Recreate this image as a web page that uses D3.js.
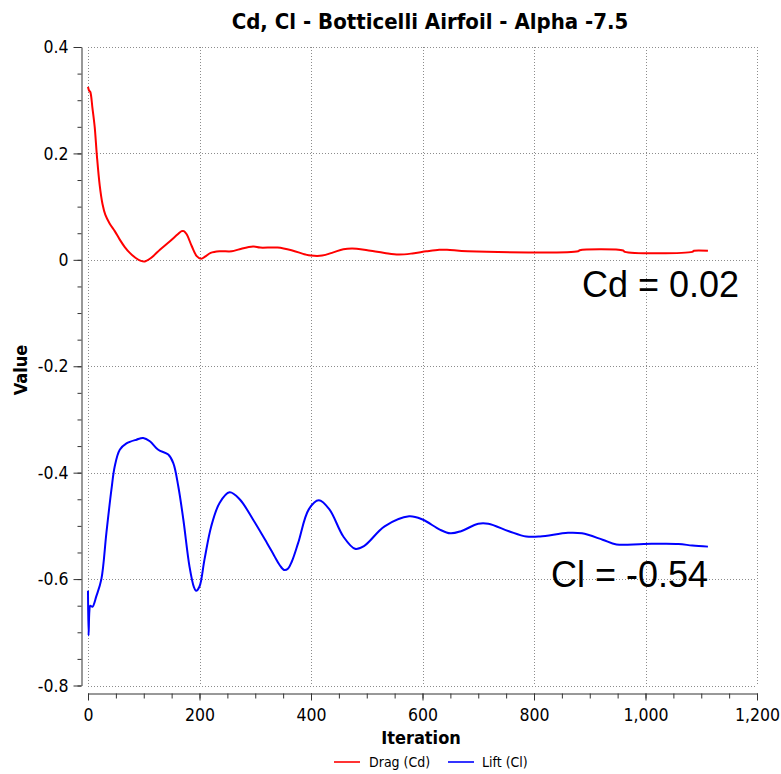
<!DOCTYPE html>
<html>
<head>
<meta charset="utf-8">
<script src="https://cdn.jsdelivr.net/npm/d3@7"></script>
<style>
  html, body { margin: 0; padding: 0; background: #fff; }
  svg { display: block; }
  text { font-family: "DejaVu Sans Condensed", "DejaVu Sans", sans-serif; fill: #000; }
</style>
</head>
<body>
<svg id="chart" width="781" height="774"></svg>
<script>
// ---- data ----
const cdIteration = [0, 2, 4, 8, 12, 16, 21, 26, 31, 39, 48, 57, 66, 75, 85, 95, 102, 111, 120, 129, 147, 161, 168, 172, 177, 186, 195, 203, 210, 220, 236, 258, 272, 296, 309, 340, 365, 390, 400, 420, 440, 458, 482, 507, 532, 557, 582, 607, 630, 644, 681, 879, 882, 960, 963, 1084, 1087, 1112];
const cdValue = [0.325, 0.318, 0.316, 0.285, 0.250, 0.195, 0.140, 0.105, 0.085, 0.068, 0.054, 0.038, 0.024, 0.013, 0.004, -0.002, -0.003, 0.002, 0.010, 0.019, 0.035, 0.048, 0.054, 0.054, 0.048, 0.026, 0.007, 0.002, 0.006, 0.013, 0.016, 0.016, 0.020, 0.025, 0.023, 0.023, 0.018, 0.010, 0.008, 0.008, 0.014, 0.020, 0.021, 0.017, 0.013, 0.010, 0.012, 0.016, 0.019, 0.019, 0.016, 0.016, 0.018, 0.0175, 0.015, 0.015, 0.017, 0.017];

const clIteration = [0, 1, 2.5, 4, 8, 15, 24, 33, 42, 48, 57, 69, 87, 99, 111, 126, 144, 153, 162, 171, 182, 190, 194, 200, 209, 221, 236, 254, 272, 296, 321, 334, 344, 352, 359, 366, 377, 396, 414, 433, 458, 479, 495, 532, 576, 600, 631, 650, 669, 700, 718, 755, 786, 811, 861, 886, 923, 948, 997, 1059, 1084, 1112];
const clValue = [-0.622, -0.706, -0.660, -0.650, -0.652, -0.632, -0.600, -0.513, -0.432, -0.388, -0.357, -0.345, -0.338, -0.335, -0.341, -0.357, -0.366, -0.382, -0.426, -0.488, -0.576, -0.615, -0.622, -0.614, -0.563, -0.501, -0.457, -0.437, -0.450, -0.488, -0.532, -0.556, -0.574, -0.583, -0.580, -0.566, -0.532, -0.469, -0.452, -0.469, -0.520, -0.543, -0.538, -0.501, -0.482, -0.488, -0.507, -0.514, -0.510, -0.496, -0.496, -0.510, -0.520, -0.520, -0.513, -0.514, -0.526, -0.535, -0.534, -0.534, -0.537, -0.539];

const xTicks = [0, 200, 400, 600, 800, 1000, 1200];
const xTickLabels = ["0", "200", "400", "600", "800", "1,000", "1,200"];
const xMinorTicks = d3.range(0, 1201, 50);
const yTicks = [0.4, 0.2, 0, -0.2, -0.4, -0.6, -0.8];
const yTickLabels = ["0.4", "0.2", "0", "-0.2", "-0.4", "-0.6", "-0.8"];
const yMinorTicks = d3.range(-0.8, 0.4001, 0.05);
const seriesNames = ["Drag (Cd)", "Lift (Cl)"];
const seriesColors = ["#ff0000", "#0000ff"];
const title = "Cd, Cl - Botticelli Airfoil - Alpha -7.5";
const xLabel = "Iteration";
const yLabel = "Value";
const annotations = ["Cd = 0.02", "Cl = -0.54"];

// ---- layout ----
const plot = { left: 88, right: 757, top: 47, bottom: 685.5 };
const axisGap = 7.3;

const svg = d3.select("#chart");
const x = d3.scaleLinear().domain([0, 1200]).range([plot.left, plot.right]);
const y = d3.scaleLinear().domain([-0.8, 0.4]).range([plot.bottom, plot.top]);

// gridlines
const grid = svg.append("g").attr("stroke", "#8c8c8c").attr("stroke-width", 1).attr("stroke-dasharray", "1,2");
grid.selectAll("line.v").data(xTicks).join("line")
  .attr("x1", d => Math.round(x(d)) + 0.5).attr("x2", d => Math.round(x(d)) + 0.5)
  .attr("y1", plot.top).attr("y2", plot.bottom);
grid.selectAll("line.h").data(yTicks).join("line")
  .attr("y1", d => Math.round(y(d)) + 0.5).attr("y2", d => Math.round(y(d)) + 0.5)
  .attr("x1", plot.left).attr("x2", plot.right);

// x axis
const xAxisY = Math.round(plot.bottom + axisGap) + 0.5;
const xAxisG = svg.append("g").attr("transform", `translate(0,${xAxisY})`);
xAxisG.append("g").call(d3.axisBottom(x).tickValues(xMinorTicks).tickSize(5).tickFormat(""))
  .call(g => g.select(".domain").remove())
  .call(g => g.selectAll("line").attr("stroke", "#333"));
xAxisG.append("g").call(d3.axisBottom(x).tickValues(xTicks).tickSizeInner(7).tickSizeOuter(0).tickPadding(8)
    .tickFormat((d, i) => xTickLabels[i]))
  .call(g => g.select(".domain").attr("stroke", "#333"))
  .call(g => g.selectAll("line").attr("stroke", "#333"))
  .call(g => g.selectAll("text").style("font-size", "17.5px").attr("fill", "#000"));

// y axis
const yAxisX = Math.round(plot.left - axisGap) + 0.5;
const yAxisG = svg.append("g").attr("transform", `translate(${yAxisX},0)`);
yAxisG.append("g").call(d3.axisLeft(y).tickValues(yMinorTicks).tickSize(4).tickFormat(""))
  .call(g => g.select(".domain").remove())
  .call(g => g.selectAll("line").attr("stroke", "#333"));
yAxisG.append("g").call(d3.axisLeft(y).tickValues(yTicks).tickSizeInner(8).tickSizeOuter(0).tickPadding(5)
    .tickFormat((d, i) => yTickLabels[i]))
  .call(g => g.select(".domain").attr("stroke", "#333"))
  .call(g => g.selectAll("line").attr("stroke", "#333"))
  .call(g => g.selectAll("text").style("font-size", "17.5px").attr("fill", "#000"));

// lines
const line = d3.line().x(d => x(d[0])).y(d => y(d[1])).curve(d3.curveCatmullRom.alpha(0.5));
const cdData = cdIteration.map((v, i) => [v, cdValue[i]]);
const clData = clIteration.map((v, i) => [v, clValue[i]]);
svg.append("path").datum(cdData).attr("d", line).attr("fill", "none")
  .attr("stroke", seriesColors[0]).attr("stroke-width", 2).attr("stroke-linejoin", "round");
svg.append("path").datum(clData).attr("d", line).attr("fill", "none")
  .attr("stroke", seriesColors[1]).attr("stroke-width", 2).attr("stroke-linejoin", "round");

// title
svg.append("text").attr("x", 430).attr("y", 29).attr("text-anchor", "middle")
  .style("font-size", "22px").style("font-weight", "bold").text(title);

// axis labels
svg.append("text").attr("x", 421).attr("y", 744).attr("text-anchor", "middle")
  .style("font-size", "18px").style("font-weight", "bold").text(xLabel);
svg.append("text").attr("transform", "translate(27,370) rotate(-90)").attr("text-anchor", "middle")
  .style("font-size", "18px").style("font-weight", "bold").text(yLabel);

// legend
const legendItems = [{ x: 334, tx: 369 }, { x: 448, tx: 482 }];
const legend = svg.append("g");
legendItems.forEach((it, i) => {
  legend.append("line").attr("x1", it.x).attr("x2", it.x + 26).attr("y1", 762).attr("y2", 762)
    .attr("stroke", seriesColors[i]).attr("stroke-width", 1.6);
  legend.append("text").attr("x", it.tx).attr("y", 767).style("font-size", "14px").text(seriesNames[i]);
});

// annotations
svg.append("text").attr("x", 582).attr("y", 297)
  .style("font-family", "'Liberation Sans', Arial, sans-serif").style("font-size", "36px").text(annotations[0]);
svg.append("text").attr("x", 551).attr("y", 587)
  .style("font-family", "'Liberation Sans', Arial, sans-serif").style("font-size", "36px").text(annotations[1]);
</script>
</body>
</html>
